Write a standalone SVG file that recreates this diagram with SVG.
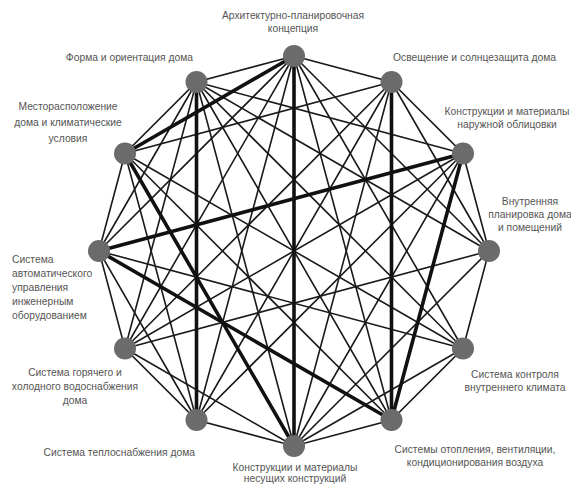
<svg xmlns="http://www.w3.org/2000/svg" width="571" height="485" viewBox="0 0 571 485">
<style>
.t{stroke:#1a1a1a;stroke-width:1.6;fill:none;stroke-linecap:round}
.b{stroke:#111;stroke-width:3.6;fill:none;stroke-linecap:round}
.n{fill:#6b6b6b}
text{font-family:"Liberation Sans",Arial,sans-serif;font-size:10.3px;fill:#555}
.m{text-anchor:middle}
.e{text-anchor:end}
</style>
<rect width="571" height="485" fill="#fff"/>
<g id="connectors">
<polygon class="t" points="294,56 391.5,82 463,153.5 489,251 463,348.5 391.5,420 294,446 196.5,420 125,348.5 99,251 125,153.5 196.5,82"/>
<line class="t" x1="294" y1="56" x2="463" y2="348.5"/>
<line class="t" x1="294" y1="56" x2="391.5" y2="420"/>
<line class="t" x1="294" y1="56" x2="196.5" y2="420"/>
<line class="t" x1="294" y1="56" x2="125" y2="348.5"/>
<line class="t" x1="294" y1="56" x2="99" y2="251"/>
<line class="t" x1="294" y1="56" x2="489" y2="251"/>
<line class="t" x1="391.5" y1="82" x2="294" y2="446"/>
<line class="t" x1="391.5" y1="82" x2="196.5" y2="420"/>
<line class="t" x1="391.5" y1="82" x2="125" y2="348.5"/>
<line class="t" x1="391.5" y1="82" x2="125" y2="153.5"/>
<line class="t" x1="391.5" y1="82" x2="489" y2="251"/>
<line class="t" x1="463" y1="153.5" x2="294" y2="446"/>
<line class="t" x1="463" y1="153.5" x2="196.5" y2="420"/>
<line class="t" x1="463" y1="153.5" x2="125" y2="348.5"/>
<line class="t" x1="463" y1="153.5" x2="196.5" y2="82"/>
<line class="t" x1="489" y1="251" x2="294" y2="446"/>
<line class="t" x1="489" y1="251" x2="125" y2="348.5"/>
<line class="t" x1="489" y1="251" x2="196.5" y2="82"/>
<line class="t" x1="463" y1="348.5" x2="294" y2="446"/>
<line class="t" x1="463" y1="348.5" x2="99" y2="251"/>
<line class="t" x1="463" y1="348.5" x2="125" y2="153.5"/>
<line class="t" x1="463" y1="348.5" x2="196.5" y2="82"/>
<line class="t" x1="391.5" y1="420" x2="125" y2="153.5"/>
<line class="t" x1="391.5" y1="420" x2="196.5" y2="82"/>
<line class="t" x1="294" y1="446" x2="125" y2="348.5"/>
<line class="t" x1="294" y1="446" x2="196.5" y2="82"/>
<line class="t" x1="196.5" y1="420" x2="99" y2="251"/>
<line class="t" x1="196.5" y1="420" x2="125" y2="153.5"/>
<line class="t" x1="125" y1="348.5" x2="196.5" y2="82"/>
<line class="t" x1="99" y1="251" x2="196.5" y2="82"/>
<line class="b" x1="294" y1="56" x2="294" y2="446"/>
<line class="b" x1="391.5" y1="82" x2="391.5" y2="420"/>
<line class="b" x1="196.5" y1="82" x2="196.5" y2="420"/>
<line class="b" x1="99" y1="251" x2="463" y2="153.5"/>
<line class="b" x1="99" y1="251" x2="391.5" y2="420"/>
<line class="b" x1="463" y1="153.5" x2="391.5" y2="420"/>
<line class="b" x1="125" y1="153.5" x2="294" y2="56"/>
<line class="b" x1="125" y1="153.5" x2="294" y2="446"/>
</g>
<g id="n1"><circle class="n" cx="294" cy="56" r="11"/><text class="m" x="293" y="19">Архитектурно-планировочная</text><text class="m" x="293" y="32">концепция</text></g>
<g id="n2"><circle class="n" cx="391.5" cy="82" r="11"/><text x="393" y="61">Освещение и солнцезащита дома</text></g>
<g id="n3"><circle class="n" cx="463" cy="153.5" r="11"/><text class="m" x="507" y="115">Конструкции и материалы</text><text class="m" x="507" y="128">наружной облицовки</text></g>
<g id="n4"><circle class="n" cx="489" cy="251" r="11"/><text class="m" x="530" y="205">Внутренняя</text><text class="m" x="530" y="218">планировка дома</text><text class="m" x="530" y="231">и помещений</text></g>
<g id="n5"><circle class="n" cx="463" cy="348.5" r="11"/><text class="m" x="515" y="378">Система контроля</text><text class="m" x="515" y="391">внутреннего климата</text></g>
<g id="n6"><circle class="n" cx="391.5" cy="420" r="11"/><text class="m" x="475" y="453">Системы отопления, вентиляции,</text><text class="m" x="475" y="466">кондиционирования воздуха</text></g>
<g id="n7"><circle class="n" cx="294" cy="446" r="11"/><text class="m" x="295" y="471">Конструкции и материалы</text><text class="m" x="295" y="482">несущих конструкций</text></g>
<g id="n8"><circle class="n" cx="196.5" cy="420" r="11"/><text class="e" x="195" y="456">Система теплоснабжения дома</text></g>
<g id="n9"><circle class="n" cx="125" cy="348.5" r="11"/><text class="m" x="75" y="376">Система горячего и</text><text class="m" x="75" y="390">холодного водоснабжения</text><text class="m" x="75" y="404">дома</text></g>
<g id="n10"><circle class="n" cx="99" cy="251" r="11"/><text x="12" y="263">Система</text><text x="12" y="277">автоматического</text><text x="12" y="291">управления</text><text x="12" y="305">инженерным</text><text x="12" y="319">оборудованием</text></g>
<g id="n11"><circle class="n" cx="125" cy="153.5" r="11"/><text class="m" x="68" y="110">Месторасположение</text><text class="m" x="68" y="126">дома и климатические</text><text class="m" x="68" y="142">условия</text></g>
<g id="n12"><circle class="n" cx="196.5" cy="82" r="11"/><text class="e" x="193" y="61">Форма и ориентация дома</text></g>
</svg>
